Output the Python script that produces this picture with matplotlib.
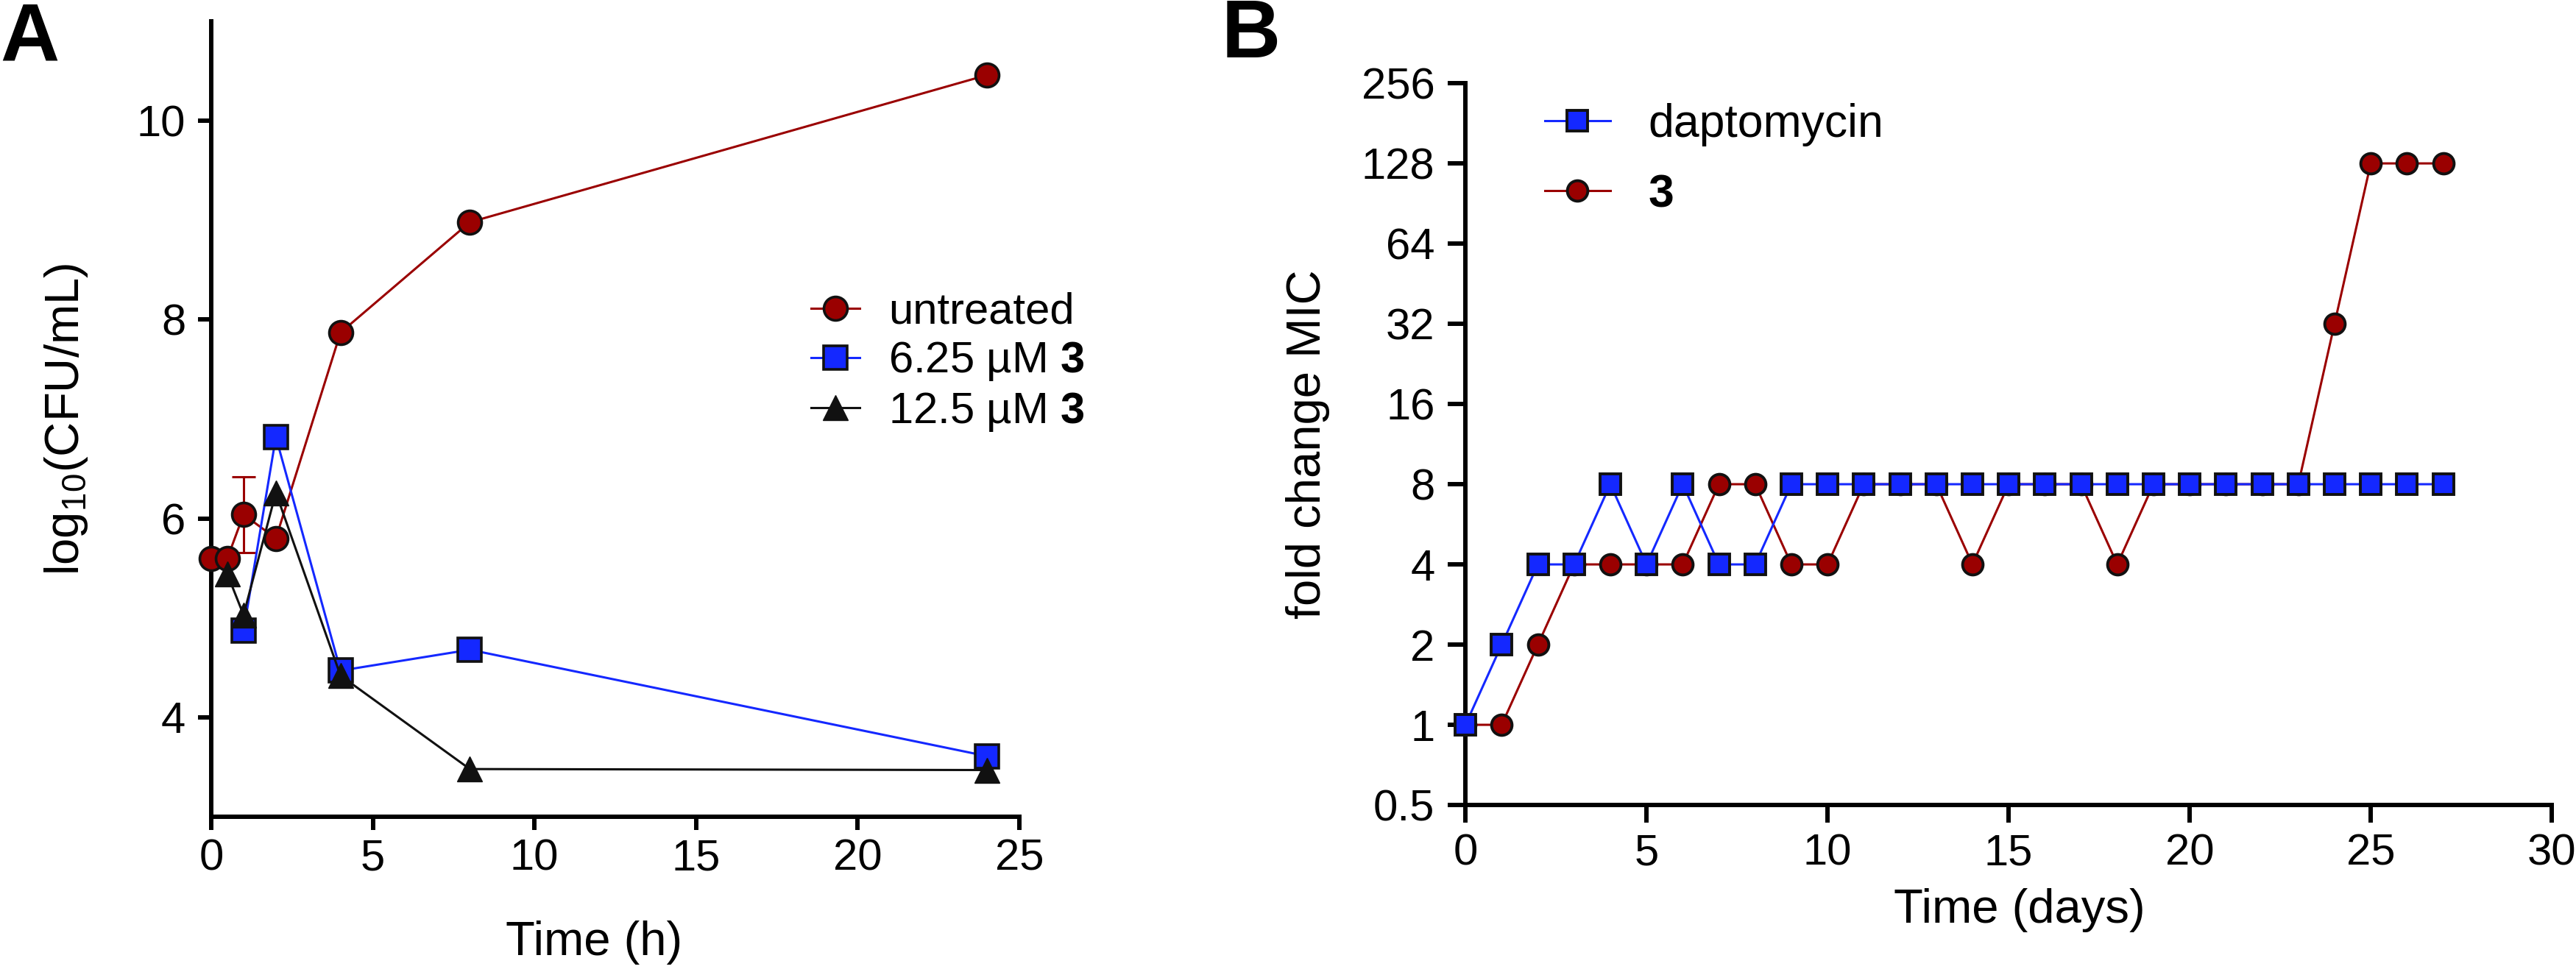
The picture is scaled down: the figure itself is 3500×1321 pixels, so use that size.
import numpy as np
import matplotlib
matplotlib.use('Agg')
from matplotlib import pyplot as plt
from matplotlib.ticker import NullLocator

plt.rcParams['font.family'] = ['Liberation Sans', 'DejaVu Sans']
plt.rcParams['mathtext.fontset'] = 'custom'
plt.rcParams['mathtext.rm'] = 'Liberation Sans'
plt.rcParams['mathtext.it'] = 'Liberation Sans'
plt.rcParams['mathtext.bf'] = 'Liberation Sans:bold'

# panel A: time-kill
time_untreated = [0, 0.5, 1, 2, 4, 8, 24]
cfu_untreated = [5.60, 5.60, 6.04, 5.80, 7.87, 8.98, 10.46]
err_untreated = [0, 0, 0.38, 0, 0, 0, 0]
time_low = [1, 2, 4, 8, 24]
cfu_low = [4.87, 6.82, 4.47, 4.68, 3.61]
time_high = [0.5, 1, 2, 4, 8, 24]
cfu_high = [5.44, 5.03, 6.26, 4.42, 3.48, 3.47]
labels_a = ['untreated', r'6.25 µM $\mathbf{3}$', r'12.5 µM $\mathbf{3}$']

# panel B: resistance passaging
days = list(range(28))
mic_dapto = [1, 2, 4, 4, 8, 4, 8, 4, 4, 8, 8, 8, 8, 8, 8, 8, 8, 8, 8, 8,
             8, 8, 8, 8, 8, 8, 8, 8]
mic_cmpd3 = [1, 1, 2, 4, 4, 4, 4, 8, 8, 4, 4, 8, 8, 8, 4, 8, 8, 8, 4, 8,
             8, 8, 8, 8, 32, 128, 128, 128]
labels_b = ['daptomycin', r'$\mathbf{3}$']
yticks_b = [0.5, 1, 2, 4, 8, 16, 32, 64, 128, 256]

red = '#9A0000'
blue = '#1428FF'
dpi = 100
fig = plt.figure(figsize=(35, 13.21), dpi=dpi)

spine_w = 4.3
tick_fs = 43
label_fs = 47

# ---- A ----
ax1 = fig.add_axes([0.082, 0.1597, 0.3137, 0.8183])
lr, = ax1.plot(time_untreated, cfu_untreated, color=red, lw=2.2, marker='o', ms=23,
               mfc=red, mec='#111111', mew=2.6, clip_on=False, zorder=3)
err = np.array(err_untreated)
m = err > 0
ax1.errorbar(np.array(time_untreated)[m], np.array(cfu_untreated)[m], yerr=err[m],
             fmt='none', ecolor=red, elinewidth=2.2, capsize=11.5, capthick=2.2, zorder=2)
lb, = ax1.plot(time_low, cfu_low, color=blue, lw=2.2, marker='s', ms=23,
               mfc=blue, mec='#111111', mew=2.6, clip_on=False, zorder=4)
lk, = ax1.plot(time_high, cfu_high, color='#111111', lw=2.2, marker='^', ms=24,
               mfc='#111111', mec='#111111', mew=1, clip_on=False, zorder=5)
ax1.set_xlim(0, 25)
ax1.set_ylim(3, 11)
ax1.set_xticks([0, 5, 10, 15, 20, 25])
ax1.set_yticks([4, 6, 8, 10])
for s in ['top', 'right']:
    ax1.spines[s].set_visible(False)
for s in ['left', 'bottom']:
    ax1.spines[s].set_linewidth(spine_w)
ax1.tick_params(axis='both', direction='out', length=13, width=spine_w, labelsize=tick_fs)
ax1.tick_params(axis='x', pad=8)
ax1.tick_params(axis='y', pad=12)
ax1.set_xlabel('Time (h)', fontsize=label_fs)
ax1.set_ylabel(r'log$_{10}$(CFU/mL)', fontsize=label_fs)
ax1.xaxis.set_label_coords(0.474, -0.13)
ax1.yaxis.set_label_coords(-0.15, 0.5)
fig.legend([lr, lb, lk], labels_a, loc='center left', bbox_to_anchor=(0.3149, 0.6268),
           frameon=False, fontsize=43, borderpad=0, borderaxespad=0,
           handlelength=1.1, handletextpad=0.65, labelspacing=0.18)
fig.text(0.0, 1 - 83 / 1321, 'A', fontsize=80, fontweight='bold', va='baseline')

# ---- B ----
ax2 = fig.add_axes([0.5689, 0.1718, 0.4217, 0.7426])
l3, = ax2.plot(days, mic_cmpd3, color=red, lw=2.2, marker='o', ms=20,
               mfc=red, mec='#111111', mew=2.8, clip_on=False, zorder=3)
ld, = ax2.plot(days, mic_dapto, color=blue, lw=2.2, marker='s', ms=20,
               mfc=blue, mec='#111111', mew=2.8, clip_on=False, zorder=4)
ax2.set_yscale('log', base=2)
ax2.set_xlim(0, 30)
ax2.set_ylim(0.5, 256)
ax2.set_xticks([0, 5, 10, 15, 20, 25, 30])
ax2.set_yticks(yticks_b)
ax2.set_yticklabels([('%g' % v) for v in yticks_b])
ax2.yaxis.set_minor_locator(NullLocator())
for s in ['top', 'right']:
    ax2.spines[s].set_visible(False)
for s in ['left', 'bottom']:
    ax2.spines[s].set_linewidth(spine_w)
ax2.tick_params(axis='both', direction='out', length=17, width=spine_w, labelsize=tick_fs)
ax2.tick_params(axis='x', pad=11)
ax2.tick_params(axis='y', pad=13)
ax2.set_xlabel('Time (days)', fontsize=label_fs)
ax2.set_ylabel('fold change MIC', fontsize=label_fs)
ax2.xaxis.set_label_coords(0.51, -0.115)
ax2.yaxis.set_label_coords(-0.125, 0.5)
fig.legend([ld, l3], labels_b, loc='center left', bbox_to_anchor=(0.5997, 0.8357),
           frameon=False, fontsize=45, borderpad=0, borderaxespad=0,
           handlelength=1.42, handletextpad=0.82, labelspacing=0.57)
fig.text(1660 / 3500, 1 - 78 / 1321, 'B', fontsize=80, fontweight='bold', va='baseline')

fig.savefig('out.png', dpi=dpi)
